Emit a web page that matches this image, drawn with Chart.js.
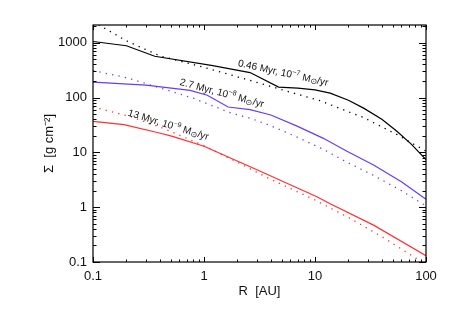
<!DOCTYPE html>
<html lang="en">
<head>
<meta charset="UTF-8">
<title>Surface density profiles</title>
<script src="https://cdn.jsdelivr.net/npm/chart.js"></script>
<style>
	html, body {
		margin: 0;
		padding: 0;
		background-color: #fff;
	}

	canvas {
		display: block;
	}
</style>
</head>
<body>
<canvas id="sigmaChart" width="463" height="319"></canvas>

<script>
	// radius [AU] and surface density [g cm^-2]
	const rBlackSolid = [0.1, 0.2, 0.36, 1.2, 2.6, 4.7, 7, 10, 13.7, 20, 27.4, 40, 55, 74, 100];
	const sigmaBlackSolid = [1050, 880, 566, 380, 285, 155, 148, 138, 120, 89, 64, 40, 24, 14, 7.4];

	const rBlackDotted = [0.1, 0.126, 0.2, 0.4, 1.0, 2.6, 6, 11, 14.7, 27.4, 55, 100];
	const sigmaBlackDotted = [2450, 1850, 1080, 575, 355, 205, 125, 88, 70, 43, 21, 10.5];

	const rBlueSolid = [0.1, 0.3, 0.75, 1.07, 1.65, 2.6, 4, 6.9, 11.9, 19.4, 33.7, 60, 100];
	const sigmaBlueSolid = [190, 168, 135, 110, 67, 60, 48, 30, 18, 10.5, 5.9, 2.9, 1.4];

	const rBlueDotted = [0.1, 0.2, 0.4, 0.8, 1.75, 2.6, 4, 6.9, 11.9, 19.4, 33.7, 60, 100];
	const sigmaBlueDotted = [310, 230, 150, 97, 52, 42, 30.5, 19, 11.3, 6.6, 3.8, 2.0, 1.05];

	const rRedSolid = [0.1, 0.19, 0.38, 0.52, 1.0, 1.73, 3, 10.4, 13.7, 33.7, 100];
	const sigmaRedSolid = [36.6, 32, 23, 19.5, 12.9, 7.9, 4.8, 1.55, 1.15, 0.47, 0.13];

	const rRedDotted = [0.1, 0.217, 0.42, 1.0, 2.0, 4, 10, 20, 40, 100];
	const sigmaRedDotted = [67, 45, 28, 13.2, 6.6, 3.2, 1.35, 0.65, 0.29, 0.09];

	// tick labels
	const xTickValues = [0.1, 1, 10, 100];
	const xTickLabels = ['0.1', '1', '10', '100'];
	const yTickValues = [0.1, 1, 10, 100, 1000];
	const yTickLabels = ['0.1', '1', '10', '100', '1000'];

	// curve annotations
	const labelAge = ['0.46 Myr, 10', '2.7 Myr, 10', '13 Myr, 10'];
	const labelExp = ['\u22127', '\u22128', '\u22129'];
	const labelR = [2.0, 0.6, 0.204];
	const labelSigma = [377, 170, 47];
	const labelAngle = [12.5, 15, 17];

	const BLUE = '#6a3cf0';
	const RED = '#ff3030';
	const FONT = '"Liberation Sans", Arial, sans-serif';

	function points(rs, sigmas) {
		return rs.map((r, i) => ({x: r, y: sigmas[i]}));
	}

	function logTicks(lo, hi) {
		const out = [];
		for (let d = lo; d <= hi; d++) {
			for (let m = 1; m <= 9; m++) {
				out.push({value: m * Math.pow(10, d)});
			}
		}
		return out;
	}

	function isDecade(v) {
		const l = Math.log10(v);
		return Math.abs(l - Math.round(l)) < 1e-6;
	}

	function line(label, rs, sigmas, color, dotted) {
		return {
			label: label,
			data: points(rs, sigmas),
			borderColor: color,
			borderWidth: dotted ? 1.3 : 1.2,
			borderDash: dotted ? [1.3, 5.2] : [],
			pointRadius: 0,
			tension: 0,
			fill: false
		};
	}

	// inward ticks on all four sides, frame and curve labels
	const frameTicks = {
		id: 'frameTicks',
		afterDraw(chart) {
			const {ctx, chartArea: a, scales} = chart;
			ctx.save();
			ctx.strokeStyle = '#000';
			ctx.lineWidth = 1;
			ctx.beginPath();
			scales.x.ticks.forEach(t => {
				const px = Math.round(scales.x.getPixelForValue(t.value)) + 0.5;
				const len = isDecade(t.value) ? 5 : 2.5;
				ctx.moveTo(px, a.bottom);
				ctx.lineTo(px, a.bottom - len);
				ctx.moveTo(px, a.top);
				ctx.lineTo(px, a.top + len);
			});
			scales.y.ticks.forEach(t => {
				const py = Math.round(scales.y.getPixelForValue(t.value)) + 0.5;
				const len = isDecade(t.value) ? 7 : 3.5;
				ctx.moveTo(a.left, py);
				ctx.lineTo(a.left + len, py);
				ctx.moveTo(a.right, py);
				ctx.lineTo(a.right - len, py);
			});
			ctx.stroke();
			ctx.lineWidth = 1.2;
			ctx.strokeRect(a.left, a.top, a.right - a.left, a.bottom - a.top);

			ctx.fillStyle = '#111';
			ctx.textBaseline = 'alphabetic';
			ctx.textAlign = 'left';
			for (let i = 0; i < labelAge.length; i++) {
				const x = scales.x.getPixelForValue(labelR[i]);
				const y = scales.y.getPixelForValue(labelSigma[i]);
				const parts = [
					[labelAge[i], 10, 0],
					[labelExp[i], 7, -4],
					[' M', 10, 0],
					['\u2299', 8, 1],
					['/yr', 10, 0]
				];
				ctx.save();
				ctx.translate(x, y);
				ctx.rotate(labelAngle[i] * Math.PI / 180);
				let cx = 0;
				parts.forEach(([txt, size, dy]) => {
					ctx.font = size + 'px ' + FONT;
					ctx.fillText(txt, cx, dy);
					cx += ctx.measureText(txt).width;
				});
				ctx.restore();
			}
			ctx.restore();
		}
	};

	new Chart(document.getElementById('sigmaChart'), {
		type: 'line',
		data: {
			datasets: [
				line('0.46 Myr', rBlackSolid, sigmaBlackSolid, '#000', false),
				line('0.46 Myr ss', rBlackDotted, sigmaBlackDotted, '#000', true),
				line('2.7 Myr', rBlueSolid, sigmaBlueSolid, BLUE, false),
				line('2.7 Myr ss', rBlueDotted, sigmaBlueDotted, BLUE, true),
				line('13 Myr', rRedSolid, sigmaRedSolid, RED, false),
				line('13 Myr ss', rRedDotted, sigmaRedDotted, RED, true)
			]
		},
		options: {
			responsive: false,
			animation: false,
			events: [],
			layout: {
				padding: {left: 0, right: 37, top: 25, bottom: 0}
			},
			plugins: {
				legend: {display: false},
				tooltip: {enabled: false}
			},
			scales: {
				x: {
					type: 'logarithmic',
					min: 0.1,
					max: 100,
					afterBuildTicks: scale => { scale.ticks = logTicks(-1, 1).concat([{value: 100}]); },
					afterFit: scale => { scale.height = 57; },
					grid: {display: false, drawTicks: false},
					border: {display: false},
					ticks: {
						autoSkip: false,
						maxRotation: 0,
						padding: 7,
						color: '#111',
						font: {family: FONT, size: 13},
						callback: value => {
							const i = xTickValues.indexOf(value);
							return i >= 0 ? xTickLabels[i] : '';
						}
					},
					title: {
						display: true,
						text: 'R  [AU]',
						color: '#111',
						font: {family: FONT, size: 13},
						padding: {top: 0, bottom: 19.5}
					}
				},
				y: {
					type: 'logarithmic',
					min: 0.1,
					max: 2100,
					afterBuildTicks: scale => { scale.ticks = logTicks(-1, 2).concat([{value: 1000}, {value: 2000}]); },
					afterFit: scale => { scale.width = 93; },
					grid: {display: false, drawTicks: false},
					border: {display: false},
					ticks: {
						autoSkip: false,
						padding: 6,
						color: '#111',
						font: {family: FONT, size: 13},
						callback: value => {
							const i = yTickValues.indexOf(value);
							return i >= 0 ? yTickLabels[i] : '';
						}
					},
					title: {
						display: true,
						text: '\u03a3  [g cm\u207b\u00b2]',
						color: '#111',
						font: {family: FONT, size: 13},
						padding: {top: 42, bottom: 0}
					}
				}
			}
		},
		plugins: [frameTicks]
	});
</script>
</body>
</html>
